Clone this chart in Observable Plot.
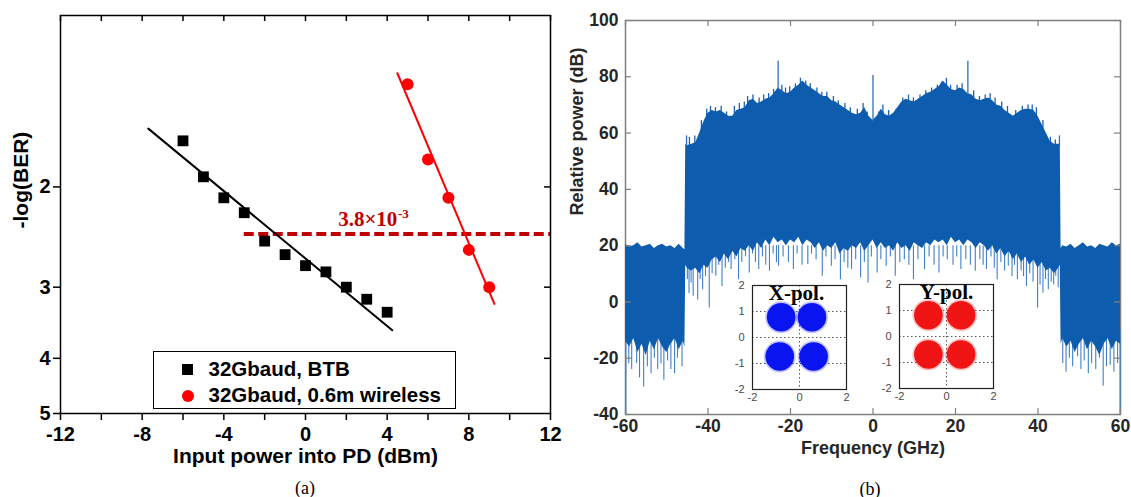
<!DOCTYPE html>
<html><head><meta charset="utf-8">
<script src="https://cdn.jsdelivr.net/npm/d3@7"></script>
<script src="https://cdn.jsdelivr.net/npm/@observablehq/plot@0.6"></script>
<style>
body{margin:0;background:#fff;}
#root{position:relative;width:1131px;height:497px;overflow:hidden;background:#fff;}
.abs{position:absolute;}
.cap{position:absolute;font-family:'Liberation Serif','Times New Roman',serif;font-size:18px;transform:translate(-50%,-50%);white-space:nowrap;color:#000;}
#legend{position:absolute;left:153px;top:351px;width:303px;height:58px;box-sizing:border-box;border:1.5px solid #000;background:#fff;font-family:'Liberation Sans',Arial,sans-serif;font-weight:bold;font-size:20.5px;color:#000;}
#legend span{position:absolute;white-space:nowrap;line-height:20px;}
</style></head><body><div id="root"></div>
<script>
// ---------- Panel (a) data ----------
const btbX = [-6, -5, -4, -3, -2, -1, 0, 1, 2, 3, 4];
const btbY = [1.66, 1.92, 2.09, 2.22, 2.49, 2.63, 2.75, 2.82, 3.00, 3.15, 3.32];
const wlX = [5, 6, 7, 8, 9];
const wlY = [1.32, 1.79, 2.09, 2.58, 3.00];
const btbFitX = [-7.7, 4.25];
const btbFitY = [1.58, 3.57];
const wlFitX = [4.5, 9.25];
const wlFitY = [1.263, 3.21];
const fecBER = 3.8e-3;
const fecLevel = -Math.log10(fecBER);
const fecStartX = -3;
const fecLabelX = 4.5;
const xTicksA = [-12, -8, -4, 0, 4, 8, 12];
const xMinorA = [-12, -10, -8, -6, -4, -2, 0, 2, 4, 6, 8, 10, 12];
const yTicksA = [2, 3, 4, 5];
const seriesNames = ["32Gbaud, BTB", "32Gbaud, 0.6m wireless"];

// ---------- Panel (b) data ----------
const specFreq = [
  -60,-59,-58,-57,-56,-55,-54,-53,-52,-51,-50,-49,-48,-47,-46,-45.6,
  -45.4,
  -45,-44,-43,-42,-41,-40,-39,-38,-37,-36,
  -35,-34,-33,-32,-31,-30,-29,-28,-27,-26,
  -25,-24,-23,-22,-21,-20,-19,-18,-17,-16,
  -15,-14,-13,-12,-11,-10,-9,-8,-7,-6,
  -5,-4,-3,-2,-1,0,1,2,3,4,
  5,6,7,8,9,10,11,12,13,14,
  15,16,17,18,19,20,21,22,23,24,
  25,26,27,28,29,30,31,32,33,34,
  35,36,37,38,39,40,41,42,43,44,
  45,
  45.4,
  45.6,46,47,48,49,50,51,52,53,54,55,56,57,58,59,60
];
const specTop = [
  20.5,19.5,20,21,19.5,20,20.5,19,20,20.5,19.5,20,19,20.5,19,18.5,
  56,
  55.5,56,56.5,60,64,67,68,67.5,68,67,
  66,66,68,68.5,69,71.5,72,70.5,71,72,
  72.5,74,76,75,74,74.5,76,77,78.5,77,
  76,75,74,73,73,71.5,71,70,69,68,
  67,66.5,67,69,66,64.5,66,68.5,66.5,66,
  67,69,71,72,71.5,71,72,73,74,74.5,
  75.5,76.5,78.5,77,75.5,75,76,75.5,74,73.5,
  72,71.5,72,72.5,71.5,70,69.5,68,67,66,
  67,68,68.5,68.5,68,66,63,60,57,56,
  56,
  56,
  19,20,19.5,20.5,19,20,21,19.5,20,19,20.5,20,19.5,21,20,20.5
];
const specBot = [
  -14,-16,-13,-18,-15,-19,-14,-17,-13,-16,-18,-15,-13,-17,-14,-16,
  13,
  12,11,12,10,13,12,15,16,14,17,
  15,18,16,19,18,20,18,21,19,22,
  20,23,21,22,20,22,21,23,20,22,
  21,19,21,18,20,19,21,17,19,18,
  20,19,21,18,20,22,19,21,19,20,
  18,21,19,20,18,21,20,19,21,20,
  22,21,22,20,23,21,22,20,22,21,
  19,21,20,18,20,17,19,16,18,15,
  17,14,16,13,15,12,14,11,12,10,
  12,
  13,
  -15,-13,-16,-14,-18,-15,-13,-17,-14,-16,-19,-15,-13,-17,-14,-15
];
// downward noise spikes below the dense trace
const spikeFreq = [
  -59.9,-59.2,-58.5,-57.3,-56.6,-55.6,-54.7,-53.8,-53.0,-52.2,-51.4,-50.7,-49.8,-49.0,-48.1,-47.4,-46.3,
  -45.0,-44.6,-44.1,-43.6,-42.5,-41.9,-41.3,-40.6,-39.7,-39.0,-38.1,-37.4,-36.6,-35.8,-35.0,-34.4,-33.5,
  -32.6,-31.8,-30.9,-30.0,-29.2,-28.5,-27.7,-26.8,-26.0,-25.1,-24.2,-23.4,-22.9,-21.8,-20.5,-19.3,-18.4,
  -17.2,-15.8,-14.9,-13.8,-12.3,-11.4,-10.1,-9.2,-7.9,-7.0,-6.1,-5.2,-4.2,-3.0,-2.1,-1.2,-0.4,
  1.0,1.9,3.2,4.2,5.4,6.5,7.6,8.7,9.8,10.9,12.5,13.6,14.8,16.0,17.0,18.0,19.4,20.3,21.3,22.5,23.6,
  24.8,25.9,26.7,27.5,28.6,29.4,30.1,31.0,31.9,32.8,33.7,34.3,35.0,35.9,36.5,37.2,38.0,38.8,39.9,
  40.5,41.2,41.8,42.5,43.2,43.8,44.3,44.9,
  46.0,46.8,47.6,48.4,49.6,50.4,51.2,52.2,53.0,54.0,54.9,55.8,56.6,57.5,58.4,59.3,59.9
];
const spikeLow = [
  -40,-22,-24,-21.9,-27,-30.2,-23,-25.5,-20,-24,-22,-27.8,-21,-24,-25.5,-20,-23,
  8,3,6.7,2,0.7,8,4.3,9,-2.2,10,9.1,13,5.5,12,14,11.5,15,
  7.9,14,16,10.3,17,14,11.5,16,13,10.9,17,14,12.7,16,14,11.5,17,
  13,13.3,17,15,9.1,16,12.7,15,7.9,14,12,11.5,15,8.5,14,6.7,16,
  10.3,15,12.7,16,9.1,14,15,13,7.9,15,11.5,16,13,10.3,16,15,13,16,11.5,15,13,
  10.9,15,13,11.5,16,12,7.9,14,11,12.7,9,13,7.9,11,9,5.5,10,7,-2.2,
  6,3.1,8,4.3,7,6,9.1,5,
  -21.9,-25,-20,-23,-19.5,-24,-21,-25.5,-22,-24,-20,-30,-23,-22.5,-25,-21.9,-40
];
// small upward noise spikes on the top edge
const topSpikeFreq = [
  -44.5,-43.2,-41.6,-40.3,-39.4,-38.2,-36.8,-35.5,-33.6,-32.4,-31.2,-30.4,-29.1,-27.6,-26.5,-25.3,-24.1,
  -22.1,-21.2,-20.2,-18.8,-17.6,-16.3,-15.2,-13.6,-12.4,-11.2,-9.6,-8.4,-6.8,-5.5,-3.8,-2.4,-1.4,
  1.4,2.4,3.8,5.6,7.2,8.6,9.8,11.4,12.8,14.2,15.6,16.6,17.8,18.8,20.4,21.6,
  24.4,25.8,27.2,28.4,29.6,31.2,32.6,34.6,36.2,37.6,38.6,39.6,41.2,43.0,44.2
];
const topSpikeHigh = [
  58.5,59,64.5,68.5,69.5,69,69.5,67.5,69.5,70.5,71,73,73.5,72.5,73.5,74,75.5,
  77,76,76.5,77.5,79.5,78.5,77.5,76,74.5,74.5,73,71.5,70.5,69,68.5,70.5,67.5,
  67.5,70,68,68.5,72.5,73.5,72.5,73.5,75,76,77,78,79.5,77,77,77.5,
  75,73,73.5,74,72.5,71,69.5,68,69.5,70,70,69,64.5,58.5,57.5
];
const peakFreq = [-45.2, -23, 0, 23, 45.2];
const peakLow = [55, 75, 64, 73.5, 55];
const peakHigh = [59, 85.5, 80.5, 85.5, 59];
const xTicksB = [-60, -40, -20, 0, 20, 40, 60];
const yTicksB = [-40, -20, 0, 20, 40, 60, 80, 100];

// ---------- Constellation insets ----------
const constTicksY = [-2, -1, 0, 1, 2];
const constTicksX = [-2, 0, 2];
const xpolI = [-0.78, 0.53, -0.84, 0.60];
const xpolQ = [0.78, 0.78, -0.73, -0.73];
const ypolI = [-0.77, 0.62, -0.77, 0.62];
const ypolQ = [0.82, 0.82, -0.69, -0.69];

const sans = "'Liberation Sans', Arial, Helvetica, sans-serif";
const serif = "'Liberation Serif', 'Times New Roman', serif";
const root = document.getElementById("root");
function place(node, left, top) {
  const d = document.createElement("div");
  d.className = "abs"; d.style.left = left + "px"; d.style.top = top + "px";
  d.appendChild(node); root.appendChild(d); return d;
}

// ---------- Panel (a) ----------
{
  const W = 565, H = 497, mL = 60, mR = 15, mT = 15, mB = 84;
  const fw = W - mL - mR, fh = H - mT - mB;
  const btb = btbX.map((x, i) => ({x, y: btbY[i]}));
  const wl = wlX.map((x, i) => ({x, y: wlY[i]}));
  const btbFit = btbFitX.map((x, i) => ({x, y: btbFitY[i]}));
  const wlFit = wlFitX.map((x, i) => ({x, y: wlFitY[i]}));
  const txt = {fontFamily: sans, fontWeight: "bold", fill: "#000"};
  const p = Plot.plot({
    width: W, height: H, marginLeft: mL, marginRight: mR, marginTop: mT, marginBottom: mB,
    x: {domain: [-12, 12], axis: null},
    y: {type: "log", domain: [1, 5], reverse: true, axis: null},
    style: {background: "transparent", overflow: "visible"},
    marks: [
      Plot.ruleY([{y: fecLevel, x1: fecStartX, x2: 12}], {y: "y", x1: "x1", x2: "x2", stroke: "#c00000", strokeWidth: 4, strokeDasharray: "10,4.5"}),
      Plot.line(btbFit, {x: "x", y: "y", stroke: "#000", strokeWidth: 2}),
      Plot.line(wlFit, {x: "x", y: "y", stroke: "#ff0000", strokeWidth: 2}),
      Plot.dot(btb, {x: "x", y: "y", symbol: "square", r: 6.1, fill: "#000"}),
      Plot.dot(wl, {x: "x", y: "y", symbol: "circle", r: 6, fill: "#ff0000"}),
      Plot.text(["3.8×10"], {x: fecLabelX, y: fecLevel, text: d => d, textAnchor: "end", lineAnchor: "bottom", dy: -8, fontFamily: serif, fontWeight: "bold", fontSize: 21, fill: "#c00000"}),
      Plot.text(["-3"], {x: fecLabelX, y: fecLevel, text: d => d, textAnchor: "start", lineAnchor: "bottom", dy: -16, dx: 0.5, fontFamily: serif, fontWeight: "bold", fontSize: 13, fill: "#c00000"}),
      Plot.frame({stroke: "#000", strokeWidth: 1.5}),
      Plot.tickX(xMinorA, {x: d => d, insetTop: fh - 7, dy: 7, stroke: "#000", strokeWidth: 1.5}),
      Plot.tickX(xMinorA, {x: d => d, insetBottom: fh - 6, stroke: "#000", strokeWidth: 1.5}),
      Plot.tickY(yTicksA, {y: d => d, insetRight: fw - 7, dx: -7, stroke: "#000", strokeWidth: 1.5}),
      Plot.tickY(yTicksA.slice(0, 3), {y: d => d, insetLeft: fw - 6, stroke: "#000", strokeWidth: 1.5}),
      Plot.text(xTicksA, {x: d => d, text: d => String(d), frameAnchor: "bottom", dy: 21, lineAnchor: "middle", fontSize: 20, ...txt}),
      Plot.text(yTicksA, {y: d => d, text: d => String(d), frameAnchor: "left", dx: -10, textAnchor: "end", lineAnchor: "middle", fontSize: 20, ...txt}),
      Plot.text(["-log(BER)"], {text: d => d, frameAnchor: "left", dx: -39, dy: 14, rotate: -90, lineAnchor: "middle", fontSize: 21, ...txt}),
      Plot.text(["Input power into PD (dBm)"], {text: d => d, frameAnchor: "bottom", dy: 43, lineAnchor: "middle", fontSize: 21, ...txt})
    ]
  });
  place(p, 0, 0);
  const lg = document.createElement("div");
  lg.id = "legend";
  lg.innerHTML =
    `<span style="left:28px;top:12px;width:11px;height:11px;background:#000"></span>` +
    `<span style="left:54.5px;top:7px">${seriesNames[0]}</span>` +
    `<span style="left:27.5px;top:37.5px;width:12px;height:12px;border-radius:50%;background:#ff0000"></span>` +
    `<span style="left:54.5px;top:33px">${seriesNames[1]}</span>`;
  root.appendChild(lg);
}

// ---------- Panel (b) ----------
{
  const W = 566, H = 497, mL = 60, mR = 11, mT = 20, mB = 83;
  const fw = W - mL - mR, fh = H - mT - mB;
  const spec = specFreq.map((f, i) => ({f, top: specTop[i], bot: specBot[i]}));
  const spikes = spikeFreq.map((f, i) => ({f, low: spikeLow[i], base: Math.abs(f) < 45.5 ? 20 : -10}));
  const topAt = f => {
    const j = d3.bisectRight(specFreq, f);
    const f0 = specFreq[j - 1], f1 = specFreq[j];
    return specTop[j - 1] + (specTop[j] - specTop[j - 1]) * (f - f0) / (f1 - f0);
  };
  const topSpikes = topSpikeFreq.map((f, i) => ({f, high: topSpikeHigh[i], base: topAt(f) - 3}));
  const peaks = peakFreq.map((f, i) => ({f, low: peakLow[i], high: peakHigh[i]}));
  const txt = {fontFamily: sans, fontWeight: "bold", fill: "#262626"};
  const p = Plot.plot({
    width: W, height: H, marginLeft: mL, marginRight: mR, marginTop: mT, marginBottom: mB,
    x: {domain: [-60, 60], axis: null},
    y: {domain: [-40, 100], axis: null},
    style: {background: "transparent", overflow: "visible"},
    marks: [
      Plot.frame({stroke: "#808080", strokeWidth: 1.5}),
      Plot.ruleX(spikes, {x: "f", y1: "low", y2: "base", stroke: "#3f80c8", strokeWidth: 1.1}),
      Plot.ruleX(topSpikes, {x: "f", y1: "base", y2: "high", stroke: "#1963b2", strokeWidth: 1.3}),
      Plot.areaY(spec, {x: "f", y1: "bot", y2: "top", fill: "#0d5cae"}),
      Plot.ruleX(peaks, {x: "f", y1: "low", y2: "high", stroke: "#2c6fbe", strokeWidth: 1.3}),
      Plot.tickX(xTicksB, {x: d => d, insetTop: fh - 6, stroke: "#808080", strokeWidth: 1.2}),
      Plot.tickX(xTicksB, {x: d => d, insetBottom: fh - 6, stroke: "#808080", strokeWidth: 1.2}),
      Plot.tickY(yTicksB, {y: d => d, insetRight: fw - 6, stroke: "#808080", strokeWidth: 1.2}),
      Plot.tickY(yTicksB, {y: d => d, insetLeft: fw - 6, stroke: "#808080", strokeWidth: 1.2}),
      Plot.text(xTicksB, {x: d => d, text: d => String(d), frameAnchor: "bottom", dy: 12, lineAnchor: "middle", fontSize: 17.5, ...txt}),
      Plot.text(yTicksB, {y: d => d, text: d => String(d), frameAnchor: "left", dx: -7, textAnchor: "end", lineAnchor: "middle", fontSize: 17.5, ...txt}),
      Plot.text(["Relative power (dB)"], {text: d => d, frameAnchor: "left", dx: -48, dy: -2, rotate: -90, lineAnchor: "middle", fontSize: 18, ...txt}),
      Plot.text(["Frequency (GHz)"], {text: d => d, frameAnchor: "bottom", dy: 34, lineAnchor: "middle", fontSize: 18, ...txt})
    ]
  });
  place(p, 565, 0);
}

// ---------- Insets ----------
function inset(I, Q, color, title, titleDx) {
  const pts = I.map((x, i) => ({x, y: Q[i]}));
  const lab = {fontFamily: sans, fontSize: 11, fill: "#4a4a4a"};
  return Plot.plot({
    width: 128, height: 124, marginLeft: 26, marginRight: 8, marginTop: 2, marginBottom: 18,
    x: {domain: [-2, 2], axis: null},
    y: {domain: [-2, 2], axis: null},
    style: {background: "transparent", overflow: "visible"},
    marks: [
      Plot.frame({fill: "#fff", stroke: null}),
      Plot.ruleY([-1, 0, 1], {stroke: "#555", strokeWidth: 1, strokeDasharray: "1.5,2.5"}),
      Plot.ruleX([0], {stroke: "#555", strokeWidth: 1, strokeDasharray: "1.5,2.5"}),
      Plot.dot(pts, {x: "x", y: "y", r: 16, fill: color, fillOpacity: 0.25}),
      Plot.dot(pts, {x: "x", y: "y", r: 14.3, fill: color}),
      Plot.frame({stroke: "#222", strokeWidth: 1.2}),
      Plot.text(constTicksY, {y: d => d, text: d => String(d), frameAnchor: "left", dx: -8, textAnchor: "end", lineAnchor: "middle", ...lab}),
      Plot.text(constTicksX, {x: d => d, text: d => String(d), frameAnchor: "bottom", dy: 8, lineAnchor: "middle", ...lab}),
      Plot.text([title], {text: d => d, frameAnchor: "top", dy: 14.5, dx: titleDx, lineAnchor: "bottom", fontFamily: serif, fontWeight: "bold", fontSize: 21, fill: "#000"})
    ]
  });
}
place(inset(xpolI, xpolQ, "#0a14f0", "X-pol.", -3), 726, 283);
place(inset(ypolI, ypolQ, "#f01414", "Y-pol.", 0), 873, 282);

// ---------- Captions ----------
for (const [t, x, y] of [["(a)", 305, 488], ["(b)", 870, 489]]) {
  const c = document.createElement("div");
  c.className = "cap"; c.textContent = t; c.style.left = x + "px"; c.style.top = y + "px";
  root.appendChild(c);
}
</script></body></html>
